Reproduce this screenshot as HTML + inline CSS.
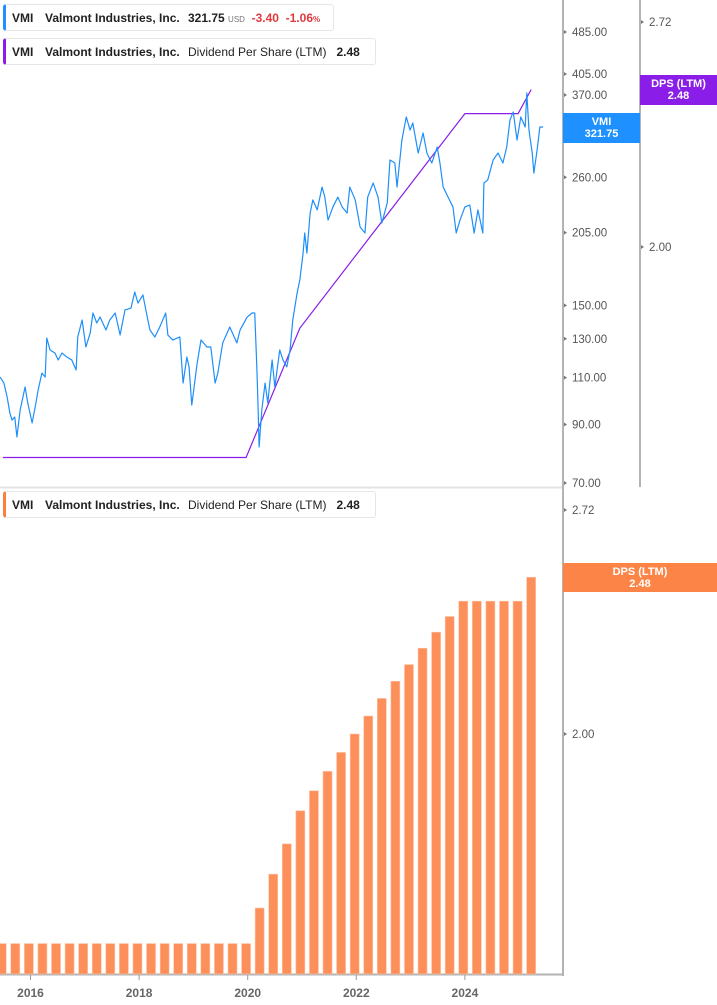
<!DOCTYPE html>
<html><head><meta charset="utf-8"><style>
html,body{margin:0;padding:0;background:#fff;width:717px;height:1005px;overflow:hidden;font-family:"Liberation Sans",sans-serif;}
.leg{position:absolute;left:3px;height:27px;border:1px solid #e6e6e6;border-left:3px solid #1e90ff;border-radius:3px;background:#fff;font-size:12px;line-height:27px;white-space:nowrap;padding-left:6px;color:#222;box-sizing:border-box}
.leg b{font-weight:bold}
.leg span{display:inline-block}
.lab{position:absolute;color:#fff;font-size:11px;font-weight:bold;text-align:center;line-height:12px;box-sizing:border-box;padding-top:3px}
</style></head><body>
<svg id="chart" width="717" height="1005" style="position:absolute;left:0;top:0" xmlns="http://www.w3.org/2000/svg"></svg>
<div class="leg" style="top:4px;width:331px"><span style="width:33px"><b>VMI</b></span><span style="width:143px"><b>Valmont Industries, Inc.</b></span><b>321.75</b> <span style="font-size:8px;color:#777">USD</span>&nbsp; <b style="color:#e0393e">-3.40</b>&nbsp; <b style="color:#e0393e">-1.06<span style="font-size:8px">%</span></b></div>
<div class="leg" style="top:38px;width:373px;border-left-color:#8a1ee8"><span style="width:33px"><b>VMI</b></span><span style="width:143px"><b>Valmont Industries, Inc.</b></span>Dividend Per Share (LTM)&nbsp;&nbsp; <b>2.48</b></div>
<div class="leg" style="top:491px;width:373px;border-left-color:#fd7f3c"><span style="width:33px"><b>VMI</b></span><span style="width:143px"><b>Valmont Industries, Inc.</b></span>Dividend Per Share (LTM)&nbsp;&nbsp; <b>2.48</b></div>
<div class="lab" style="left:563px;top:113px;width:77px;height:30px;background:#1e90ff">VMI<br>321.75</div>
<div class="lab" style="left:640px;top:75px;width:77px;height:30px;background:#8a1ee8">DPS (LTM)<br>2.48</div>
<div class="lab" style="left:563px;top:563px;width:154px;height:29px;background:#fd8447">DPS (LTM)<br>2.48</div>
<script>
const priceDates=[2015.44,2015.51,2015.57,2015.62,2015.66,2015.71,2015.75,2015.81,2015.90,2015.95,2016.03,2016.10,2016.14,2016.21,2016.27,2016.30,2016.36,2016.45,2016.51,2016.58,2016.67,2016.76,2016.84,2016.87,2016.95,2017.02,2017.10,2017.15,2017.22,2017.28,2017.39,2017.46,2017.56,2017.65,2017.74,2017.85,2017.92,2017.98,2018.07,2018.15,2018.20,2018.29,2018.38,2018.49,2018.53,2018.62,2018.75,2018.81,2018.88,2018.92,2018.97,2019.07,2019.14,2019.25,2019.32,2019.40,2019.45,2019.54,2019.67,2019.80,2019.86,2019.99,2020.08,2020.13,2020.17,2020.19,2020.21,2020.26,2020.32,2020.37,2020.45,2020.50,2020.59,2020.65,2020.72,2020.78,2020.83,2020.91,2020.96,2021.02,2021.05,2021.09,2021.15,2021.20,2021.28,2021.37,2021.42,2021.48,2021.57,2021.66,2021.74,2021.83,2021.88,2021.98,2022.07,2022.16,2022.21,2022.31,2022.40,2022.47,2022.57,2022.62,2022.71,2022.75,2022.84,2022.92,2022.99,2023.04,2023.14,2023.23,2023.30,2023.39,2023.49,2023.54,2023.60,2023.69,2023.78,2023.84,2023.91,2024.00,2024.09,2024.17,2024.24,2024.33,2024.35,2024.42,2024.52,2024.61,2024.70,2024.77,2024.83,2024.89,2024.96,2025.03,2025.11,2025.14,2025.18,2025.24,2025.27,2025.33,2025.38,2025.44];
const priceValues=[110.3,107.5,101.2,94.5,91.7,92.9,85.3,95.8,105.7,98.7,90.6,98.7,104.3,112.2,110.3,130.4,123.9,122.3,118.7,122.3,120.2,118.7,113.7,131.0,140.9,125.5,133.3,145.2,139.1,142.7,135.0,140.9,145.2,132.1,147.1,148.3,158.9,151.5,156.9,142.7,135.0,131.0,136.7,145.2,132.1,129.3,131.0,107.5,120.2,115.2,97.8,117.2,129.3,125.5,125.5,107.5,112.2,127.7,136.7,127.7,135.0,142.7,145.2,145.2,113.7,97.8,81.7,95.8,107.5,98.7,118.7,105.7,123.9,118.7,115.2,123.9,140.9,158.2,167.3,187.8,204.7,187.8,223.0,235.9,226.0,249.3,238.8,216.4,228.9,238.8,228.9,223.0,249.3,235.9,210.0,204.7,238.8,253.7,238.8,213.6,232.8,280.0,276.4,249.3,305.1,336.8,318.4,328.2,288.5,314.4,288.5,276.4,296.0,276.4,249.3,238.8,228.9,204.7,216.4,228.9,230.8,204.7,226.0,204.7,253.7,256.9,280.0,288.5,276.4,296.0,332.4,344.1,305.1,336.8,322.6,373.3,318.4,288.5,264.7,292.3,322.6,322.6];
const dpsLineDates=[2015.49,2019.97,2020.96,2024.00,2024.98,2025.22];
const dpsLineValues=[1.50,1.50,1.79,2.40,2.40,2.48];
const barDates=[2015.47,2015.72,2015.97,2016.22,2016.47,2016.72,2016.97,2017.22,2017.47,2017.72,2017.97,2018.22,2018.47,2018.72,2018.97,2019.22,2019.47,2019.72,2019.97,2020.22,2020.47,2020.72,2020.97,2021.22,2021.47,2021.72,2021.97,2022.22,2022.47,2022.72,2022.97,2023.22,2023.47,2023.72,2023.97,2024.22,2024.47,2024.72,2024.97,2025.22];
const barValues=[1.50,1.50,1.50,1.50,1.50,1.50,1.50,1.50,1.50,1.50,1.50,1.50,1.50,1.50,1.50,1.50,1.50,1.50,1.50,1.575,1.65,1.72,1.80,1.85,1.90,1.95,2.00,2.05,2.10,2.15,2.20,2.25,2.30,2.35,2.40,2.40,2.40,2.40,2.40,2.48];
const priceTicks=[485,405,370,260,205,150,130,110,90,70];
const dpsTicksTop=[2.72,2.00];
const dpsTicksBottom=[2.72,2.00];
const yearTicks=[2016,2018,2020,2022,2024];

const NS="http://www.w3.org/2000/svg";
const svg=document.getElementById('chart');
function mk(tag,attrs,parent){const e=document.createElementNS(NS,tag);for(const k in attrs)e.setAttribute(k,attrs[k]);(parent||svg).appendChild(e);return e;}
const x=t=>30.5+(t-2016)*54.3;
const yPrice=v=>483-233*Math.log(v/70);
const yDpsTop=v=>247-731.7*Math.log(v/2);
const yDpsBot=v=>734-728.5*Math.log(v/2);

let e;
e=mk('line',{x1:0,y1:487.5,x2:563,y2:487.5,stroke:'#e3e3e3','stroke-width':2});


e=mk('line',{x1:563,y1:0,x2:563,y2:976,stroke:'#b3b3b3','stroke-width':2});


e=mk('line',{x1:640,y1:0,x2:640,y2:487,stroke:'#b3b3b3','stroke-width':2});


e=mk('line',{x1:0,y1:974.5,x2:564,y2:974.5,stroke:'#b3b3b3','stroke-width':2});



function tick(ax,y,label,name){
  const p=mk('path',{d:`M${ax+1},${y-2}L${ax+4},${y}L${ax+1},${y+2}Z`,fill:'#777'});
  
  
  const t=mk('text',{x:ax+9,y:y+4,'font-size':11.5,fill:'#555','font-family':'Liberation Sans, sans-serif'});
  t.textContent=label;
  
  
}
priceTicks.forEach(v=>tick(563,yPrice(v),v.toFixed(2),'price-tick-label'));
dpsTicksTop.forEach(v=>tick(640,yDpsTop(v),v.toFixed(2),'dps-tick-label'));
dpsTicksBottom.forEach(v=>tick(563,yDpsBot(v),v.toFixed(2),'dps-bar-tick-label'));
yearTicks.forEach(yr=>{
  const l=mk('line',{x1:x(yr),y1:975,x2:x(yr),y2:980,stroke:'#999','stroke-width':1});
  
  
  const t=mk('text',{x:x(yr),y:997,'font-size':12,'font-weight':'bold',fill:'#666','text-anchor':'middle','font-family':'Liberation Sans, sans-serif'});
  t.textContent=yr;
  
  
});

barDates.forEach((d,i)=>{
  const top=yDpsBot(barValues[i]);
  const r=mk('rect',{x:x(d)-4.5,y:top,width:9,height:974-top,fill:'#fd8f5a',stroke:'#fec3a3','stroke-width':0.6});
  
  
});

e=mk('polyline',{points:dpsLineDates.map((d,i)=>x(d)+','+yDpsTop(dpsLineValues[i])).join(' '),fill:'none',stroke:'#8a1ee8','stroke-width':1.2});



e=mk('polyline',{points:priceDates.map((d,i)=>x(d)+','+yPrice(priceValues[i])).join(' '),fill:'none',stroke:'#1e8ffa','stroke-width':1.2,'stroke-linejoin':'round'});


</script>
</body></html>
